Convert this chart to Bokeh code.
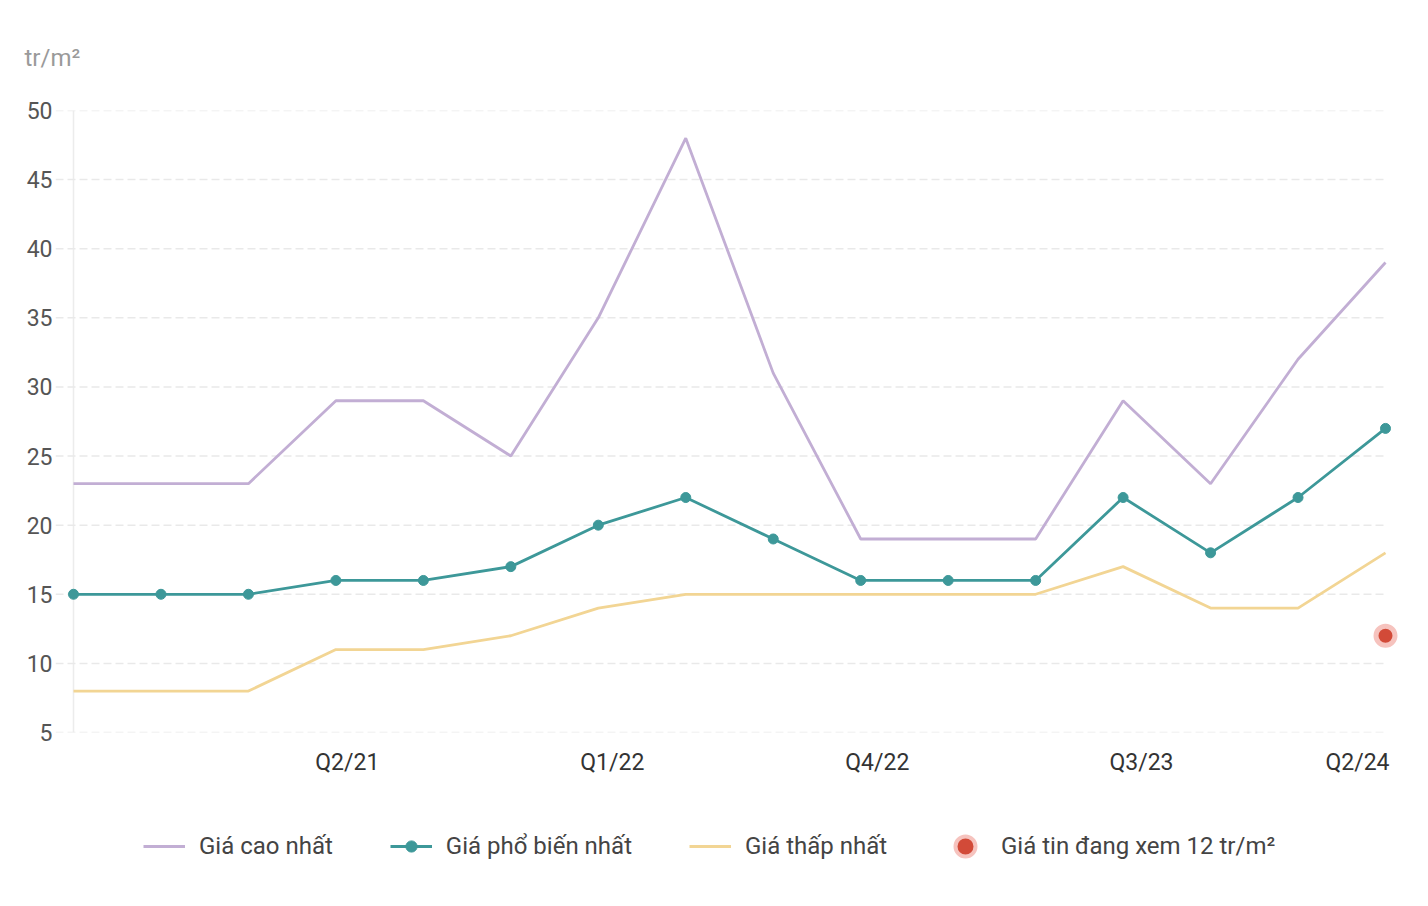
from bokeh.plotting import figure
from bokeh.layouts import column
from bokeh.models import Range1d, FixedTicker, Span, Legend, LegendItem
from bokeh.embed import file_html
from bokeh.resources import INLINE

quarters = ["Q3/20", "Q4/20", "Q1/21", "Q2/21", "Q3/21", "Q4/21", "Q1/22", "Q2/22",
            "Q3/22", "Q4/22", "Q1/23", "Q2/23", "Q3/23", "Q4/23", "Q1/24", "Q2/24"]
gia_cao = [23, 23, 23, 29, 29, 25, 35, 48, 31, 19, 19, 19, 29, 23, 32, 39]
gia_pho_bien = [15, 15, 15, 16, 16, 17, 20, 22, 19, 16, 16, 16, 22, 18, 22, 27]
gia_thap = [8, 8, 8, 11, 11, 12, 14, 15, 15, 15, 15, 15, 17, 14, 14, 18]
gia_tin_xem = 12
y_ticks = [5, 10, 15, 20, 25, 30, 35, 40, 45, 50]
x_tick_labels = ["Q2/21", "Q1/22", "Q4/22", "Q3/23", "Q2/24"]
x_tick_pos = [3.13, 6.16, 9.19, 12.21, 14.68]
legend_labels = ["Giá cao nhất", "Giá phổ biến nhất", "Giá thấp nhất", "Giá tin đang xem 12 tr/m²"]

C_CAO, C_PB, C_THAP = "#c2aed4", "#3d9899", "#f2d594"
C_DOT, C_HALO = "#d24a38", "#f6c3be"

x = list(range(len(quarters)))
FONT = "Roboto"

p = figure(width=1428, height=790, output_backend="svg", toolbar_location=None,
           x_range=Range1d(-0.2058, 15.1715), y_range=Range1d(5, 50),
           min_border_left=55, min_border_right=28, min_border_top=110,
           min_border_bottom=58)
p.outline_line_color = None
p.background_fill_color = "white"
p.border_fill_color = "white"

# title
p.title.text = "tr/m²"
p.title.text_font = FONT
p.title.text_font_size = "24px"
p.title.text_font_style = "normal"
p.title.text_color = "#9a9a9a"
p.title.align = "left"
p.title.offset = -31
p.title.standoff = 78

# grid (dashed, drawn up to last point)
p.xgrid.visible = False
p.ygrid.visible = False
p.segment(x0=[-0.2058] * len(y_ticks), x1=[15] * len(y_ticks), y0=y_ticks, y1=y_ticks,
          line_color="#e9e9e9", line_width=1.5, line_dash="8 4")
p.add_layout(Span(location=0, dimension="height", line_color="#ececec", line_width=1.5,
                  level="underlay"))

# axes
p.yaxis.ticker = FixedTicker(ticks=y_ticks)
p.yaxis.axis_line_color = None
p.yaxis.major_tick_line_color = None
p.yaxis.minor_tick_line_color = None
p.yaxis.major_tick_out = 0
p.yaxis.minor_tick_out = 0
p.yaxis.major_label_standoff = 3
p.yaxis.major_label_text_font = FONT
p.yaxis.major_label_text_font_size = "23px"
p.yaxis.major_label_text_color = "#555555"

p.xaxis.ticker = FixedTicker(ticks=x_tick_pos)
p.xaxis.major_label_overrides = {t: l for t, l in zip(x_tick_pos, x_tick_labels)}
p.xaxis.axis_line_color = None
p.xaxis.major_tick_line_color = None
p.xaxis.minor_tick_line_color = None
p.xaxis.major_tick_out = 0
p.xaxis.minor_tick_out = 0
p.xaxis.major_label_standoff = 16
p.xaxis.major_label_text_font = FONT
p.xaxis.major_label_text_font_size = "23px"
p.xaxis.major_label_text_color = "#333333"

# series
p.line(x, gia_cao, line_color=C_CAO, line_width=2.8)
p.line(x, gia_pho_bien, line_color=C_PB, line_width=2.8)
p.scatter(x, gia_pho_bien, size=10, fill_color=C_PB, line_color=C_PB)
p.line(x, gia_thap, line_color=C_THAP, line_width=2.8)
p.scatter([x[-1]], [gia_tin_xem], size=19, fill_color=C_DOT, line_color=C_HALO, line_width=5)

# legend strip (separate figure so nothing gets clipped; its data ranges show no marks)
lg = figure(width=1428, height=116, output_backend="svg", toolbar_location=None,
            x_range=Range1d(100, 101), y_range=Range1d(100, 101),
            min_border_left=0, min_border_right=0, min_border_top=0, min_border_bottom=0)
lg.axis.visible = False
lg.grid.visible = False
lg.outline_line_color = None
lg.border_fill_color = "white"

l_cao = lg.line(x, gia_cao, line_color=C_CAO, line_width=2.8)
l_pb1 = lg.line(x, gia_pho_bien, line_color=C_PB, line_width=2.8)
l_pb2 = lg.scatter(x, gia_pho_bien, fill_color=C_PB, line_color=C_PB)
l_thap = lg.line(x, gia_thap, line_color=C_THAP, line_width=2.8)
l_dot = lg.scatter([x[-1]], [gia_tin_xem], fill_color=C_DOT, line_color=C_HALO, line_width=4)

def style(leg, gw, gh, standoff):
    leg.orientation = "horizontal"
    leg.label_text_font = FONT
    leg.label_text_font_size = "24px"
    leg.label_text_color = "#444444"
    leg.glyph_width = gw
    leg.glyph_height = gh
    leg.label_standoff = standoff
    leg.spacing = 57
    leg.padding = 0
    leg.margin = 0
    leg.border_line_color = None
    leg.background_fill_alpha = 0

# column() aligns frames, so the strip's frame starts at x=55
leg1 = Legend(items=[
    LegendItem(label=legend_labels[0], renderers=[l_cao]),
    LegendItem(label=legend_labels[1], renderers=[l_pb1, l_pb2]),
    LegendItem(label=legend_labels[2], renderers=[l_thap]),
], location=(88, 46))
style(leg1, 42, 28, 14)
leg2 = Legend(items=[LegendItem(label=legend_labels[3], renderers=[l_dot])],
              location=(885, 35))
style(leg2, 50, 50, 11)
lg.add_layout(leg1)
lg.add_layout(leg2)

layout = column(p, lg, spacing=0)
open("out.html", "w").write(file_html(layout, INLINE))
